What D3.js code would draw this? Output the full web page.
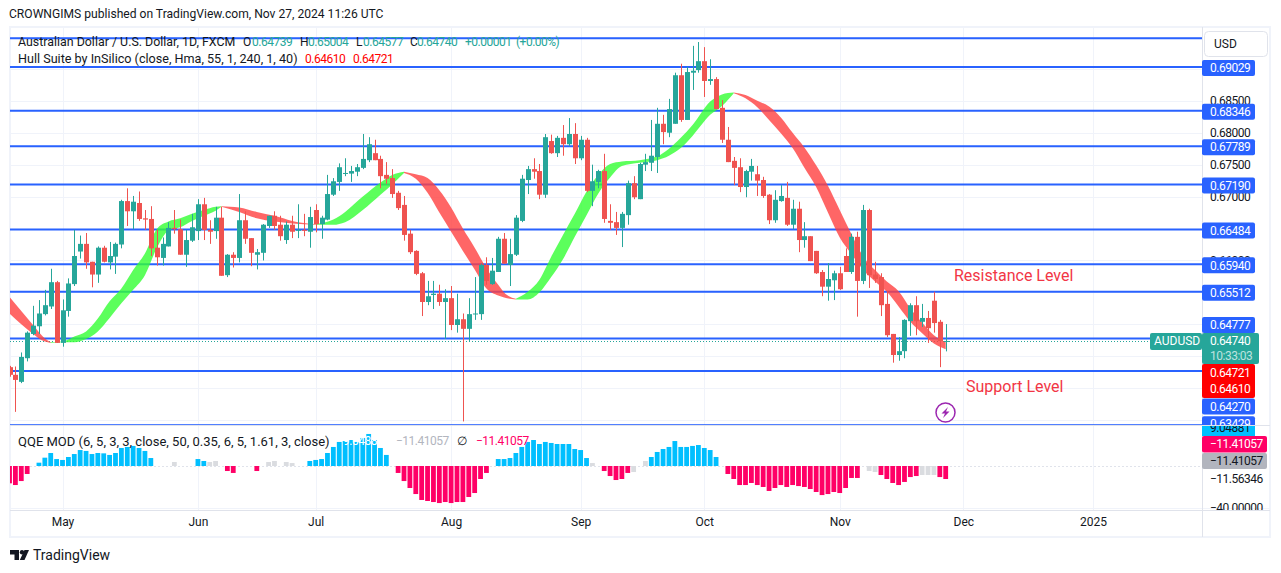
<!DOCTYPE html>
<html>
<head>
<meta charset="utf-8">
<title>AUDUSD</title>
<script src="https://cdn.jsdelivr.net/npm/d3@7"></script>
<style>
  html, body { margin: 0; padding: 0; background: #fff; }
  svg { display: block; }
  text { font-family: Roboto, "Open Sans", sans-serif; }
</style>
</head>
<body>
<svg id="chart" width="1281" height="573"></svg>
<script>
// daily candles, first one sits 9 sessions before May 1st
const firstIndex = -9;
const open = [
  0.6433,0.6421,0.6410,0.6447,0.6485,0.6497,0.6516,0.6528,0.6566,0.6471,0.6521,0.6563,0.6614,0.6626,0.6598,0.6578,0.6620,0.6597,0.6606,0.6625,
  0.6693,0.6677,0.6690,0.6666,0.6665,0.6620,0.6604,0.6622,0.6651,0.6649,0.6609,0.6631,0.6646,0.6688,0.6648,0.6646,0.6667,0.6577,0.6609,0.6604,
  0.6663,0.6635,0.6609,0.6612,0.6654,0.6670,0.6656,0.6632,0.6656,0.6647,0.6648,0.6645,0.6679,0.6657,0.6664,0.6703,0.6723,0.6736,0.6736,0.6739,
  0.6745,0.6757,0.6768,0.6759,0.6734,0.6729,0.6706,0.6687,0.6642,0.6615,0.6580,0.6535,0.6546,0.6548,0.6535,0.6541,0.6499,0.6508,0.6493,0.6516,
  0.6516,0.6593,0.6563,0.6582,0.6634,0.6593,0.6609,0.6662,0.6726,0.6743,0.6740,0.6703,0.6787,0.6768,0.6792,0.6782,0.6798,0.6760,0.6789,0.6709,
  0.6723,0.6740,0.6662,0.6660,0.6651,0.6671,0.6721,0.6696,0.6750,0.6753,0.6762,0.6814,0.6800,0.6814,0.6890,0.6820,0.6894,0.6898,0.6912,0.6881,
  0.6884,0.6839,0.6789,0.6756,0.6746,0.6715,0.6739,0.6735,0.6726,0.6703,0.6663,0.6693,0.6698,0.6656,0.6681,0.6632,0.6638,0.6615,0.6582,0.6559,
  0.6569,0.6580,0.6607,0.6582,0.6637,0.6568,0.6679,0.6578,0.6574,0.6532,0.6485,0.6452,0.6458,0.6505,0.6530,0.6504,0.6510,0.6537,0.6504,0.64739
];
const high = [
  0.6435,0.6434,0.6456,0.6489,0.6529,0.6538,0.6554,0.6587,0.6568,0.6539,0.6572,0.6648,0.6639,0.6643,0.6598,0.6622,0.6623,0.6629,0.6628,0.6695,
  0.6713,0.6701,0.6708,0.6679,0.6685,0.6648,0.6636,0.6660,0.6679,0.6664,0.6648,0.6673,0.6696,0.6698,0.6663,0.6684,0.6684,0.6610,0.6613,0.6704,
  0.6677,0.6635,0.6618,0.6657,0.6670,0.6677,0.6670,0.6661,0.6670,0.6688,0.6673,0.6684,0.6688,0.6670,0.6734,0.6729,0.6752,0.6760,0.6748,0.6751,
  0.6798,0.6793,0.6789,0.6764,0.6754,0.6743,0.6709,0.6701,0.6648,0.6616,0.6582,0.6568,0.6568,0.6562,0.6555,0.6560,0.6548,0.6517,0.6541,0.6574,
  0.6595,0.6605,0.6604,0.6637,0.6643,0.6634,0.6671,0.6734,0.6748,0.6760,0.6751,0.6798,0.6797,0.6795,0.6812,0.6823,0.6815,0.6795,0.6792,0.6750,
  0.6742,0.6767,0.6688,0.6676,0.6676,0.6725,0.6732,0.6753,0.6767,0.6820,0.6839,0.6828,0.6853,0.6894,0.6908,0.6903,0.6936,0.6942,0.6934,0.6915,
  0.6887,0.6851,0.6809,0.6762,0.6760,0.6742,0.6759,0.6748,0.6731,0.6704,0.6710,0.6718,0.6723,0.6695,0.6692,0.6660,0.6638,0.6615,0.6585,0.6596,
  0.6584,0.6590,0.6619,0.6642,0.6645,0.6687,0.6681,0.6598,0.6580,0.6552,0.6485,0.6480,0.6508,0.6533,0.6544,0.6532,0.6521,0.6551,0.6507,0.65004
];
const low = [
  0.6418,0.6363,0.6408,0.6442,0.6483,0.6485,0.6514,0.6524,0.6471,0.6465,0.6512,0.6560,0.6603,0.6587,0.6558,0.6565,0.6597,0.6586,0.6579,0.6619,
  0.6654,0.6649,0.6662,0.6648,0.6607,0.6592,0.6592,0.6622,0.6642,0.6609,0.6590,0.6629,0.6632,0.6632,0.6626,0.6634,0.6576,0.6574,0.6589,0.6597,
  0.6626,0.6591,0.6586,0.6600,0.6651,0.6648,0.6631,0.6626,0.6635,0.6635,0.6638,0.6620,0.6644,0.6634,0.6663,0.6701,0.6709,0.6732,0.6723,0.6732,
  0.6743,0.6754,0.6757,0.6713,0.6720,0.6698,0.6679,0.6631,0.6610,0.6577,0.6513,0.6530,0.6524,0.6529,0.6477,0.6491,0.6487,0.6348,0.6474,0.6507,
  0.6507,0.6562,0.6562,0.6582,0.6595,0.6560,0.6607,0.6660,0.6704,0.6728,0.6696,0.6698,0.6767,0.6762,0.6764,0.6779,0.6751,0.6757,0.6707,0.6685,
  0.6713,0.6659,0.6648,0.6640,0.6621,0.6656,0.6696,0.6696,0.6740,0.6740,0.6737,0.6782,0.6793,0.6814,0.6817,0.6820,0.6867,0.6894,0.6856,0.6875,
  0.6837,0.6784,0.6754,0.6718,0.6707,0.6699,0.6725,0.6701,0.6698,0.6657,0.6659,0.6692,0.6654,0.6649,0.6613,0.6620,0.6599,0.6579,0.6544,0.6537,
  0.6538,0.6554,0.6582,0.6579,0.6512,0.6563,0.6557,0.6565,0.6513,0.6480,0.6440,0.6443,0.6447,0.6482,0.6483,0.6496,0.6471,0.6487,0.6433,0.64577
];
const close = [
  0.6421,0.6413,0.6449,0.6487,0.6498,0.6517,0.6530,0.6566,0.6471,0.6522,0.6564,0.6607,0.6626,0.6597,0.6578,0.6620,0.6598,0.6607,0.6626,0.6693,
  0.6677,0.6692,0.6665,0.6664,0.6619,0.6605,0.6626,0.6651,0.6649,0.6609,0.6632,0.6652,0.6688,0.6648,0.6645,0.6667,0.6576,0.6609,0.6604,0.6663,
  0.6634,0.6612,0.6613,0.6656,0.6670,0.6654,0.6638,0.6656,0.6645,0.6648,0.6647,0.6668,0.6657,0.6667,0.6704,0.6724,0.6746,0.6737,0.6740,0.6746,
  0.6759,0.6782,0.6757,0.6732,0.6728,0.6704,0.6682,0.6640,0.6613,0.6579,0.6535,0.6544,0.6548,0.6535,0.6541,0.6499,0.6508,0.6493,0.6516,0.6517,
  0.6593,0.6568,0.6584,0.6634,0.6595,0.6610,0.6667,0.6728,0.6743,0.6739,0.6703,0.6793,0.6768,0.6792,0.6782,0.6798,0.6760,0.6789,0.6709,0.6724,
  0.6740,0.6665,0.6659,0.6651,0.6673,0.6721,0.6699,0.6751,0.6754,0.6764,0.6814,0.6801,0.6837,0.6890,0.6820,0.6895,0.6897,0.6912,0.6881,0.6884,
  0.6837,0.6789,0.6754,0.6745,0.6715,0.6740,0.6748,0.6725,0.6701,0.6663,0.6695,0.6701,0.6656,0.6681,0.6632,0.6638,0.6599,0.6580,0.6559,0.6571,
  0.6580,0.6555,0.6582,0.6637,0.6568,0.6679,0.6577,0.6571,0.6530,0.6483,0.6452,0.6458,0.6507,0.6530,0.6505,0.6510,0.6494,0.6502,0.6474,0.64740
];

// hull band, read at these sessions
const hullIndex = [-9,-7,-5,-3,-2,0,2,4,6,8,10,12,14,16,18,20,22,24,26,27,30,33,36,39,43,46,48,51,54,56,58,60,62,64,66,68,70,72,74,75,77,79,81,83,85,87,89,91,93,95,98,101,103,105,107,110,112,114,116,118,120,122,124,126,128,130,132,134,136,138,140,142,144,146,148,150];
const hullTop = [0.6543,0.6521,0.6499,0.6478,0.6472,0.6473,0.6481,0.6489,0.6509,0.6536,0.6556,0.6585,0.6611,0.6649,0.6661,0.6666,0.6673,0.6679,0.6684,0.6685,0.6683,0.6676,0.6670,0.6662,0.6657,0.6664,0.6676,0.6700,0.6722,0.6734,0.6739,0.6735,0.6729,0.6710,0.6683,0.6650,0.6620,0.6588,0.6562,0.6550,0.6540,0.6551,0.6570,0.6606,0.6640,0.6673,0.6708,0.6734,0.6751,0.6755,0.6757,0.6763,0.6775,0.6792,0.6812,0.6849,0.6860,0.6863,0.6859,0.6850,0.6841,0.6824,0.6800,0.6777,0.6749,0.6717,0.6679,0.6641,0.6606,0.6585,0.6567,0.6552,0.6525,0.6503,0.6483,0.6472];
const hullBottom = [0.6517,0.6500,0.6485,0.6473,0.6471,0.6472,0.6472,0.6477,0.6489,0.6510,0.6533,0.6554,0.6577,0.6619,0.6647,0.6652,0.6662,0.6670,0.6678,0.6684,0.6676,0.6666,0.6661,0.6658,0.6656,0.6656,0.6660,0.6679,0.6703,0.6719,0.6737,0.6728,0.6706,0.6675,0.6645,0.6615,0.6586,0.6556,0.6545,0.6542,0.6539,0.6539,0.6550,0.6574,0.6602,0.6637,0.6671,0.6705,0.6730,0.6748,0.6753,0.6757,0.6764,0.6776,0.6795,0.6828,0.6842,0.6862,0.6854,0.6840,0.6820,0.6799,0.6776,0.6745,0.6715,0.6675,0.6636,0.6610,0.6585,0.6567,0.6551,0.6528,0.6504,0.6486,0.6470,0.6461];
// band flips colour at these sessions, starting red
const hullFlips = [-2,27,43,58,77,114];

// QQE MOD histogram, same sessions as the candles
const qqe = [
  -15.2,-16.7,-13.2,-7.0,0,2.9,7.3,11.4,6.1,5.3,7.9,10.5,14.0,13.2,10.5,11.4,11.1,9.7,11.4,15.8,
  16.7,17.6,15.8,13.2,7.0,0,0,0,3.5,0,0,0,6.1,4.4,3.5,4.4,0,-4.4,-6.1,0,
  0,0,-4.4,0,3.5,4.4,0,3.5,2.6,0,0,4.4,5.3,6.1,11.4,16.7,21.1,21.9,22.8,21.1,
  24.6,28.1,22.8,15.8,9.7,0,-6.1,-13.2,-19.3,-24.6,-29.8,-30.7,-31.6,-32.5,-31.6,-32.5,-31.6,-31.6,-27.2,-23.7,
  -11.4,-6.1,0,6.1,6.1,7.0,11.4,16.7,21.1,22.8,19.3,21.1,20.2,19.3,19.3,19.3,14.9,14.0,7.0,2.6,
  0,-4.4,-8.8,-12.3,-11.4,-6.1,-5.3,0,4.4,7.9,12.3,14.9,16.7,21.9,16.7,16.7,17.6,18.4,15.8,14.0,
  7.9,0,-7.0,-11.4,-16.7,-16.7,-14.9,-16.7,-18.4,-21.9,-19.3,-16.7,-18.4,-16.7,-17.6,-18.4,-20.2,-22.8,-25.5,-24.6,
  -22.8,-23.7,-19.3,-10.5,-10.5,0,-4.4,-5.3,-7.9,-11.4,-14.9,-16.7,-14.0,-9.7,-8.8,-7.9,-7.9,-7.9,-9.7,-11.41
];
const qqeGray = [19,25,26,35,36,38,39,90,97,99,137,138,146,147,148];

const levels = [0.6948,0.69029,0.68346,0.67789,0.6719,0.66484,0.6594,0.65512,0.64777,0.6427,0.63429];
const gridTicks = [0.635,0.64,0.645,0.65,0.655,0.66,0.665,0.67,0.675,0.68,0.685,0.69,0.695];
const priceTicks = [0.66,0.67,0.675,0.68,0.685]; // the others sit behind level tags
const lastClose = 0.6474;
const monthIndex = [0,23,43,66,88,109,132,153,175];
const monthLabels = ["May","Jun","Jul","Aug","Sep","Oct","Nov","Dec","2025"];

const green = "#26a69a", red = "#ef5350", blue = "#2962ff";
const left = 10, right = 1202;

const svg = d3.select("#chart");
const x = d3.scaleLinear().domain([0, 150]).range([62.5, 945.7]);
const y = d3.scaleLinear().domain([0.63429, 0.69029]).range([424.7, 67]);
const yq = d3.scaleLinear().domain([-40, 0]).range([511.6, 466]);

const defs = svg.append("defs");
function clip(id, x0, y0, w, h) {
  defs.append("clipPath").attr("id", id).append("rect")
    .attr("x", x0).attr("y", y0).attr("width", w).attr("height", h);
}
clip("main", left, 27, right - left, 398);
clip("sub", left, 426, right - left, 84);
clip("axisMain", right, 27, 68, 398);
clip("axisSub", right, 426, 68, 84);

function label(g, str, px, py, size, fill, anchor) {
  return g.append("text").attr("x", px).attr("y", py)
    .attr("dy", "0.35em")
    .attr("font-size", size)
    .attr("fill", fill)
    .attr("text-anchor", anchor || "start")
    .text(str);
}
// narrower digits, closer to the chart's own font
function num(g, str, px, py, fill) {
  return label(g, str, px, py, 12, fill).attr("letter-spacing", -0.5);
}

// frame
svg.append("rect").attr("x", 10).attr("y", 27).attr("width", 1260).attr("height", 510)
  .attr("fill", "#fff").attr("stroke", "#f0f3fa").attr("stroke-width", 2);

// grid
const gridMain = svg.append("g");
gridMain.selectAll("line.h").data(gridTicks).enter().append("line")
  .attr("class", "h")
  .attr("x1", left).attr("x2", right)
  .attr("y1", d => Math.round(y(d)) + 0.5).attr("y2", d => Math.round(y(d)) + 0.5)
  .attr("stroke", "#f0f3fa");
gridMain.selectAll("line.v").data(monthIndex).enter().append("line")
  .attr("class", "v")
  .attr("x1", d => Math.round(x(d)) + 0.5).attr("x2", d => Math.round(x(d)) + 0.5)
  .attr("y1", 28).attr("y2", 510)
  .attr("stroke", "#f0f3fa");

// pane and axis borders
svg.append("line").attr("x1", left).attr("x2", 1270).attr("y1", 425.5).attr("y2", 425.5).attr("stroke", "#e0e3eb");
svg.append("line").attr("x1", left).attr("x2", 1270).attr("y1", 508.5).attr("y2", 508.5).attr("stroke", "#f0f3fa");
svg.append("line").attr("x1", left).attr("x2", 1270).attr("y1", 510.5).attr("y2", 510.5).attr("stroke", "#e0e3eb");
svg.append("line").attr("x1", right + 0.5).attr("x2", right + 0.5).attr("y1", 27).attr("y2", 537).attr("stroke", "#e0e3eb");

const main = svg.append("g").attr("clip-path", "url(#main)");

// horizontal levels
main.selectAll("line.level").data(levels).enter().append("line")
  .attr("class", "level")
  .attr("x1", left).attr("x2", right)
  .attr("y1", d => y(d)).attr("y2", d => y(d))
  .attr("stroke", blue)
  .attr("stroke-width", d => d === 0.63429 ? 1 : 2);

// last price dotted line
main.append("line")
  .attr("x1", left).attr("x2", 1150)
  .attr("y1", Math.round(y(lastClose)) + 0.5).attr("y2", Math.round(y(lastClose)) + 0.5)
  .attr("stroke", green).attr("stroke-dasharray", "1 2");

// hull band
const hull = hullIndex.map((d, i) => ({ i: d, top: hullTop[i], bottom: hullBottom[i] }));
const bandArea = d3.area()
  .x(d => x(d.i))
  .y0(d => y(d.bottom))
  .y1(d => y(d.top))
  .curve(d3.curveMonotoneX);
const edges = [hullIndex[0]].concat(hullFlips, hullIndex[hullIndex.length - 1]);
d3.pairs(edges).forEach(function (p, k) {
  main.append("path")
    .datum(hull.filter(d => d.i >= p[0] && d.i <= p[1]))
    .attr("d", bandArea)
    .attr("fill", k % 2 === 0 ? "#ff4040" : "#33ff33")
    .attr("fill-opacity", 0.8);
});

// candles
const candles = open.map((o, i) => ({ i: i + firstIndex, o: o, h: high[i], l: low[i], c: close[i] }));
const candleG = main.selectAll("g.candle").data(candles).enter().append("g").attr("class", "candle");
candleG.append("line")
  .attr("x1", d => Math.round(x(d.i)) + 0.5).attr("x2", d => Math.round(x(d.i)) + 0.5)
  .attr("y1", d => y(d.h)).attr("y2", d => y(d.l))
  .attr("stroke", d => d.c >= d.o ? green : red);
candleG.append("rect")
  .attr("x", d => Math.round(x(d.i)) - 2)
  .attr("width", 5)
  .attr("y", d => y(Math.max(d.o, d.c)))
  .attr("height", d => Math.max(1, Math.abs(y(d.o) - y(d.c))))
  .attr("fill", d => d.c >= d.o ? green : red);

// annotations
label(svg, "Resistance Level", 954, 275, 16, "#f23645");
label(svg, "Support Level", 966, 386, 16, "#f23645");

// lightning mark
const bolt = svg.append("g").attr("transform", "translate(945.5,412.5)");
bolt.append("circle").attr("r", 9.5).attr("fill", "#fff").attr("stroke", "#9c27b0").attr("stroke-width", 1.5);
bolt.append("path").attr("d", "M2.5,-5.5 L-4,1 L-0.5,1 L-2.5,5.5 L4,-1 L0.5,-1 Z").attr("fill", "#9c27b0");

// QQE histogram
const sub = svg.append("g").attr("clip-path", "url(#sub)");
sub.append("line")
  .attr("x1", left).attr("x2", right)
  .attr("y1", yq(0) + 0.5).attr("y2", yq(0) + 0.5)
  .attr("stroke", "#e0e3eb").attr("stroke-dasharray", "2 2");
const bars = qqe.map((v, i) => ({ i: i + firstIndex, v: v }));
sub.selectAll("rect").data(bars.filter(d => d.v !== 0)).enter().append("rect")
  .attr("x", d => x(d.i) - 2.4)
  .attr("width", 4.8)
  .attr("y", d => d.v > 0 ? yq(d.v) : yq(0))
  .attr("height", d => Math.abs(yq(d.v) - yq(0)))
  .attr("fill", d => qqeGray.includes(d.i) ? "#dadce0" : d.v > 0 ? "#00bfff" : "#ff0066");

// price axis
const priceAxis = d3.axisRight(y).tickValues(priceTicks).tickSize(0).tickFormat(d3.format(".5f"));
const axisG = svg.append("g").attr("clip-path", "url(#axisMain)")
  .append("g").attr("transform", "translate(" + right + ",0)").call(priceAxis);
axisG.select(".domain").remove();
axisG.selectAll("text").attr("x", 8).attr("font-size", 12)
  .attr("font-family", "Roboto, sans-serif").attr("fill", "#131722").attr("letter-spacing", -0.5);

// level tags, the crowded ones pushed apart like the original
const tagLabels = [
  { p: 0.69029, t: "0.69029" }, { p: 0.68346, t: "0.68346" }, { p: 0.67789, t: "0.67789" },
  { p: 0.6719, t: "0.67190" }, { p: 0.66484, t: "0.66484" }, { p: 0.6594, t: "0.65940" },
  { p: 0.65512, t: "0.65512" }, { p: 0.64777, t: "0.64777", dy: -14.5 },
  { p: 0.6427, t: "0.64270", dy: 34.5 }, { p: 0.63429, t: "0.63429", dy: -1.5 }
];
const tagsG = svg.append("g").attr("clip-path", "url(#axisMain)");
tagLabels.forEach(function (d) {
  const cy = y(d.p) + (d.dy || 0) + 1;
  tagsG.append("rect").attr("x", right).attr("y", cy - 8).attr("width", 53).attr("height", 16)
    .attr("rx", 2).attr("fill", blue);
  num(tagsG, d.t, right + 8, cy, "#fff");
});
// hull values
svg.append("rect").attr("x", right).attr("y", 364).attr("width", 53).attr("height", 34).attr("rx", 2).attr("fill", "#ff0000");
num(svg, "0.64721", right + 8, 372.7, "#fff");
num(svg, "0.64610", right + 8, 389, "#fff");
// last price tag
svg.append("rect").attr("x", right).attr("y", 333).attr("width", 57).attr("height", 31).attr("rx", 2).attr("fill", green);
num(svg, "0.64740", right + 8, 341, "#fff");
num(svg, "10:33:03", right + 8, 355.5, "#fff").attr("fill-opacity", 0.7);
svg.append("rect").attr("x", 1150).attr("y", 333).attr("width", 52).attr("height", 17).attr("rx", 2).attr("fill", green);
label(svg, "AUDUSD", 1154, 341, 12, "#fff");

// USD button
svg.append("rect").attr("x", 1204.5).attr("y", 31.5).attr("width", 63).attr("height", 25).attr("rx", 4)
  .attr("fill", "#fff").attr("stroke", "#e0e3eb");
label(svg, "USD", 1214, 43.5, 12, "#131722");

// QQE axis tags
const subTags = svg.append("g").attr("clip-path", "url(#axisSub)");
subTags.append("rect").attr("x", right).attr("y", 420).attr("width", 53).attr("height", 16).attr("fill", "#00bfff");
num(subTags, "9.04881", right + 8, 428, "#131722");
subTags.append("rect").attr("x", right).attr("y", 436).attr("width", 65).attr("height", 16.5).attr("rx", 2).attr("fill", "#ff0066");
num(subTags, "\u221211.41057", right + 8, 444, "#fff");
subTags.append("rect").attr("x", right).attr("y", 453).attr("width", 65).attr("height", 16).attr("rx", 2).attr("fill", "#b2b5be");
num(subTags, "\u221211.41057", right + 8, 461, "#131722");
num(subTags, "\u221211.56346", right + 8, 479, "#131722");
num(subTags, "\u221240.00000", right + 8, 507.5, "#131722");

// time axis
const timeAxis = d3.axisBottom(x).tickValues(monthIndex).tickSize(0).tickFormat((d, i) => monthLabels[i]);
const timeG = svg.append("g").attr("transform", "translate(0,517)").call(timeAxis);
timeG.select(".domain").remove();
timeG.selectAll("text").attr("font-size", 12).attr("font-family", "Roboto, sans-serif")
  .attr("fill", "#131722").attr("y", 0).attr("dy", "0.71em");

// header and legends
label(svg, "CROWNGIMS published on TradingView.com, Nov 27, 2024 11:26 UTC", 9, 14, 12.1, "#131722");
label(svg, "Australian Dollar / U.S. Dollar, 1D, FXCM", 18, 42, 12.4, "#131722");
[["O", 243], ["H", 300], ["L", 356], ["C", 410]].forEach(d => label(svg, d[0], d[1], 42, 12, "#131722"));
[["0.64739", 252], ["0.65004", 308], ["0.64577", 363], ["0.64740", 417], ["+0.00001", 465], ["(+0.00%)", 516]]
  .forEach(d => num(svg, d[0], d[1], 42, green));
label(svg, "Hull Suite by InSilico (close, Hma, 55, 1, 240, 1, 40)", 18, 59, 12.6, "#131722");
num(svg, "0.64610", 305, 59, "#ff0000");
num(svg, "0.64721", 353, 59, "#ff0000");

label(svg, "QQE MOD (6, 5, 3, 3, close, 50, 0.35, 6, 5, 1.61, 3, close)", 18, 441, 13, "#131722");
num(svg, "9.04881", 343, 441, "#fff");
num(svg, "\u221211.41057", 396, 441, "#b2b5be");
label(svg, "\u2205", 457, 441, 12, "#131722");
num(svg, "\u221211.41057", 476, 441, "#ff0066");

// TradingView mark
const logo = svg.append("g").attr("transform", "translate(10,550)").attr("fill", "#131722");
logo.append("path").attr("d", "M0,0 H9 V10 H4.5 V4.5 H0 Z");
logo.append("circle").attr("cx", 12).attr("cy", 2.2).attr("r", 2.2);
logo.append("path").attr("d", "M14.5,0 H19 L14.5,10 H9.8 Z");
label(svg, "TradingView", 33, 555.5, 14, "#131722");
</script>
</body>
</html>
